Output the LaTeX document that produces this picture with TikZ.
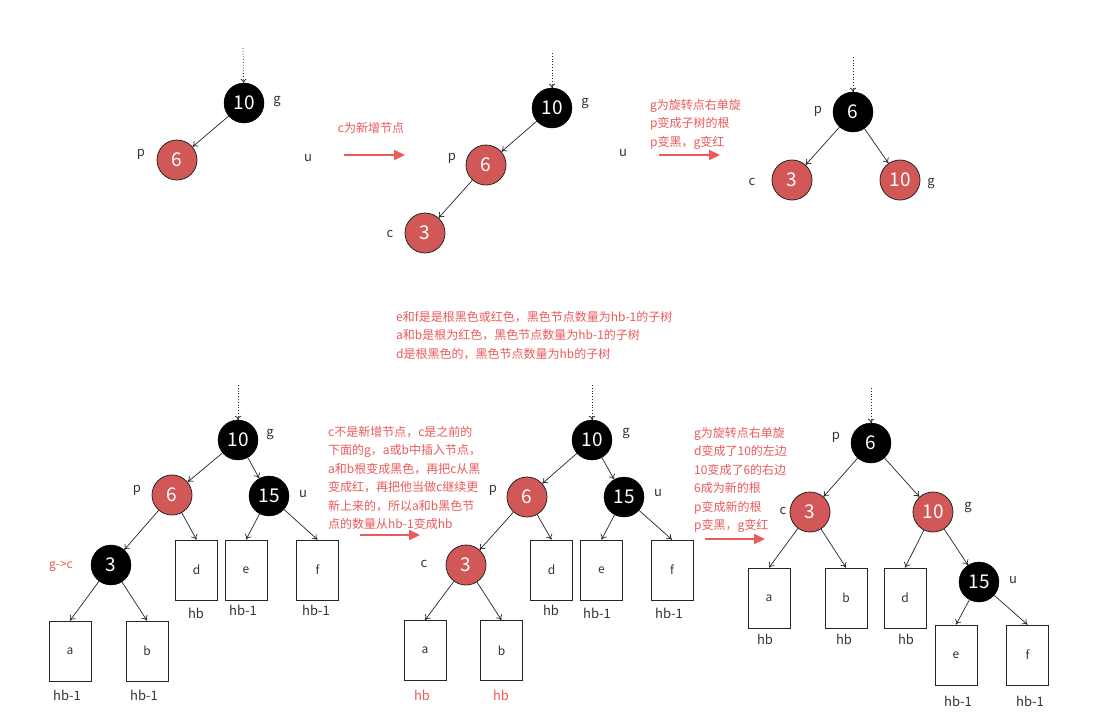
\documentclass[tikz,border=0pt]{standalone}
\usepackage{fontspec}
\setmainfont{Noto Sans CJK SC}
\usetikzlibrary{arrows.meta}
\definecolor{nodered}{HTML}{D25858}
\definecolor{notered}{HTML}{EC5A5A}
\definecolor{labgray}{HTML}{333333}
\tikzset{
  bn/.style={circle, minimum size=40pt, inner sep=0pt, draw=black, fill=black, text=white, font=\fontsize{19}{19}\selectfont},
  rn/.style={circle, minimum size=40pt, inner sep=0pt, draw=black!85, line width=0.8pt, fill=nodered, text=white, font=\fontsize{19}{19}\selectfont},
  sub/.style={draw=black!85, line width=0.8pt, fill=white, minimum width=42pt, minimum height=60pt, inner sep=0pt, font=\fontsize{12}{12}\selectfont, text=labgray},
  lab/.style={text=labgray, font=\fontsize{13}{13}\selectfont, inner sep=0pt},
  hbl/.style={text=labgray, font=\fontsize{13}{13}\selectfont, inner sep=0pt},
  hbr/.style={text=notered, font=\fontsize{13}{13}\selectfont, inner sep=0pt},
  note/.style={text=notered, font=\fontsize{12}{18.5}\selectfont, align=left, anchor=north west, inner sep=0pt},
  edge/.style={draw=black!85, line width=0.7pt, -{To[length=5pt,width=7pt]}},
  dotarr/.style={draw=black!85, line width=0.8pt, dotted, -{To[length=4pt,width=6pt]}},
  redarr/.style={draw=notered, line width=2pt, -{Triangle[length=11pt,width=10pt]}}
}
\begin{document}
\begin{tikzpicture}[x=1pt,y=-1pt]
\useasboundingbox[fill=white] (0,0) rectangle (1102,724);

% ---------------- top tree 1 ----------------
\coordinate (t1top) at (243,48);
\node[bn] (t1g) at (244,103) {10};
\node[rn] (t1p) at (177,160) {6};
\draw[dotarr] (t1top) -- (t1g);
\draw[edge] (t1g) -- (t1p);
\node[lab] at (277,101) {g};
\node[lab] at (141,154) {p};
\node[lab] at (308,158) {u};
\node[text=notered, font=\fontsize{12}{12}\selectfont, inner sep=0pt] at (371,128) {c为新增节点};
\coordinate (a1s) at (344,155);
\coordinate (a1e) at (405,155);
\draw[redarr] (a1s) -- (a1e);

% ---------------- top tree 2 ----------------
\coordinate (t2top) at (552,53);
\node[bn] (t2g) at (552,108) {10};
\node[rn] (t2p) at (486,165) {6};
\node[rn] (t2c) at (425,233) {3};
\draw[dotarr] (t2top) -- (t2g);
\draw[edge] (t2g) -- (t2p);
\draw[edge] (t2p) -- (t2c);
\node[lab] at (585,103) {g};
\node[lab] at (452,158) {p};
\node[lab] at (390,234) {c};
\node[lab] at (623,153) {u};
\node[note] at (650,99) {g为旋转点右单旋\\p变成子树的根\\p变黑，g变红};
\coordinate (a2s) at (659,155);
\coordinate (a2e) at (720,155);
\draw[redarr] (a2s) -- (a2e);

% ---------------- top tree 3 ----------------
\coordinate (t3top) at (853,57);
\node[bn] (t3p) at (853,112) {6};
\node[rn] (t3c) at (792,180) {3};
\node[rn] (t3g) at (900,180) {10};
\draw[dotarr] (t3top) -- (t3p);
\draw[edge] (t3p) -- (t3c);
\draw[edge] (t3p) -- (t3g);
\node[lab] at (818,111) {p};
\node[lab] at (752,182) {c};
\node[lab] at (931,183) {g};

% ---------------- middle note ----------------
\node[note] at (396,311) {e和f是是根黑色或红色，黑色节点数量为hb-1的子树\\a和b是根为红色，黑色节点数量为hb-1的子树\\d是根黑色的，黑色节点数量为hb的子树};

% ---------------- bottom tree 1 ----------------
\coordinate (b1top) at (238,385);
\node[bn] (b1g) at (238,440) {10};
\node[rn] (b1p) at (172,495) {6};
\node[bn] (b1u) at (269,496) {15};
\node[bn] (b1c) at (111,565) {3};
\node[sub] (b1d) at (196.5,570) {d};
\node[sub] (b1e) at (246,570) {e};
\node[sub] (b1f) at (317.5,570) {f};
\node[sub] (b1a) at (70,651) {a};
\node[sub] (b1b) at (147,651) {b};
\draw[dotarr] (b1top) -- (b1g);
\draw[edge] (b1g) -- (b1p);
\draw[edge] (b1g) -- (b1u);
\draw[edge] (b1p) -- (b1c);
\draw[edge] (b1p) -- (b1d.north);
\draw[edge] (b1u) -- (b1e.north);
\draw[edge] (b1u) -- (b1f.north);
\draw[edge] (b1c) -- (b1a.north);
\draw[edge] (b1c) -- (b1b.north);
\node[lab] at (270,434) {g};
\node[lab] at (137,490) {p};
\node[lab] at (303,494) {u};
\node[text=notered, font=\fontsize{12}{12}\selectfont, inner sep=0pt] at (61,566) {g->c};
\node[hbl] at (196,613) {hb};
\node[hbl] at (243,610) {hb-1};
\node[hbl] at (316,610) {hb-1};
\node[hbl] at (67,695) {hb-1};
\node[hbl] at (144,695) {hb-1};

\node[note] at (328,426) {c不是新增节点，c是之前的\\下面的g，a或b中插入节点，\\a和b根变成黑色，再把c从黑\\变成红，再把他当做c继续更\\新上来的，所以a和b黑色节\\点的数量从hb-1变成hb};
\coordinate (a3s) at (360,535);
\coordinate (a3e) at (420,535);
\draw[redarr] (a3s) -- (a3e);

% ---------------- bottom tree 2 ----------------
\coordinate (b2top) at (592,385);
\node[bn] (b2g) at (592,440) {10};
\node[rn] (b2p) at (527,497) {6};
\node[bn] (b2u) at (624,497) {15};
\node[rn] (b2c) at (466,565) {3};
\node[sub] (b2d) at (551.5,570) {d};
\node[sub] (b2e) at (601.5,570) {e};
\node[sub] (b2f) at (672,570) {f};
\node[sub] (b2a) at (425,650.5) {a};
\node[sub] (b2b) at (501.5,650.5) {b};
\draw[dotarr] (b2top) -- (b2g);
\draw[edge] (b2g) -- (b2p);
\draw[edge] (b2g) -- (b2u);
\draw[edge] (b2p) -- (b2c);
\draw[edge] (b2p) -- (b2d.north);
\draw[edge] (b2u) -- (b2e.north);
\draw[edge] (b2u) -- (b2f.north);
\draw[edge] (b2c) -- (b2a.north);
\draw[edge] (b2c) -- (b2b.north);
\node[lab] at (626,433) {g};
\node[lab] at (493,490) {p};
\node[lab] at (658,493) {u};
\node[lab] at (424,564) {c};
\node[hbl] at (551,610) {hb};
\node[hbl] at (597,613) {hb-1};
\node[hbl] at (669,613) {hb-1};
\node[hbr] at (422,695) {hb};
\node[hbr] at (501,695) {hb};

\node[note] at (694,427) {g为旋转点右单旋\\d变成了10的左边\\10变成了6的右边\\6成为新的根\\p变成新的根\\p变黑，g变红};
\coordinate (a4s) at (705,539);
\coordinate (a4e) at (765,539);
\draw[redarr] (a4s) -- (a4e);

% ---------------- bottom tree 3 ----------------
\coordinate (b3top) at (871,388);
\node[bn] (b3p) at (871,443) {6};
\node[rn] (b3c) at (810,512) {3};
\node[rn] (b3g) at (933,512) {10};
\node[bn] (b3u) at (979,582) {15};
\node[sub] (b3a) at (769,598) {a};
\node[sub] (b3b) at (846,598) {b};
\node[sub] (b3d) at (905,598) {d};
\node[sub] (b3e) at (956,655) {e};
\node[sub] (b3f) at (1027.5,655) {f};
\draw[dotarr] (b3top) -- (b3p);
\draw[edge] (b3p) -- (b3c);
\draw[edge] (b3p) -- (b3g);
\draw[edge] (b3c) -- (b3a.north);
\draw[edge] (b3c) -- (b3b.north);
\draw[edge] (b3g) -- (b3d.north);
\draw[edge] (b3g) -- (b3u);
\draw[edge] (b3u) -- (b3e.north);
\draw[edge] (b3u) -- (b3f.north);
\node[lab] at (836,437) {p};
\node[lab] at (783,511) {c};
\node[lab] at (968,507) {g};
\node[lab] at (1013,580) {u};
\node[hbl] at (765,639) {hb};
\node[hbl] at (844,639) {hb};
\node[hbl] at (906,639) {hb};
\node[hbl] at (958,701) {hb-1};
\node[hbl] at (1030,701) {hb-1};
\end{tikzpicture}
\end{document}
